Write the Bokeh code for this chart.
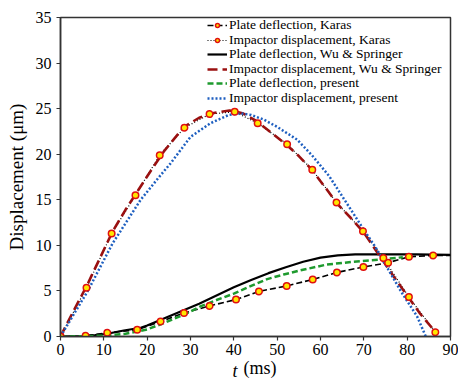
from bokeh.plotting import figure
from bokeh.models import Range1d, FixedTicker, Legend, LegendItem, Label
from bokeh.embed import file_html
from bokeh.resources import INLINE

# ---- data ----
karas_plate_t = [0, 5.8, 10.8, 17.7, 23.1, 28.5, 34.4, 40.5, 45.8, 52.2, 58.2, 63.8, 69.9, 75.6, 80.4, 86.0, 90]
karas_plate_y = [0, 0.08, 0.4, 0.74, 1.65, 2.57, 3.36, 4.05, 4.95, 5.54, 6.26, 7.03, 7.63, 8.1, 8.75, 8.9, 8.9]

karas_imp_t = [0, 6.0, 11.8, 17.3, 22.9, 28.6, 34.4, 40.2, 45.5, 52.3, 58.1, 63.7, 69.8, 74.5, 80.4, 86.5]
karas_imp_y = [0, 5.36, 11.3, 15.5, 19.9, 22.9, 24.4, 24.65, 23.4, 21.1, 18.3, 14.7, 11.56, 8.6, 4.33, 0.48]

wu_plate_t = [0, 5, 8, 10.8, 14.6, 18.5, 20, 24, 28, 32, 36, 40, 44, 48, 52, 56, 60, 64, 68, 75, 82, 90]
wu_plate_y = [0, 0.05, 0.15, 0.3, 0.66, 0.96, 1.2, 2.0, 2.8, 3.6, 4.5, 5.4, 6.2, 6.95, 7.6, 8.2, 8.65, 8.9, 9.0, 9.0, 9.0, 8.95]

wu_imp_t = [0, 3, 6, 9, 12, 15, 18, 21, 24, 28.5, 32, 35, 39, 42, 45, 48, 52, 55, 58, 61.5, 64, 67, 70, 74, 77, 80, 83, 86.5]
wu_imp_y = [0, 2.8, 5.5, 8.5, 11.5, 13.9, 16.1, 18.3, 20.4, 23.0, 24.0, 24.5, 24.8, 24.5, 23.7, 22.6, 21.1, 19.8, 18.3, 16.1, 14.5, 13.0, 11.4, 8.6, 6.5, 4.5, 2.5, 0.5]

present_plate_t = [0, 5, 10, 15, 18.5, 20, 24, 28.5, 32.3, 36, 40, 44, 47.7, 51.5, 55.4, 61.5, 67.7, 73.8, 79]
present_plate_y = [0, 0.02, 0.1, 0.3, 0.62, 0.78, 1.5, 2.4, 3.3, 4.0, 4.7, 5.55, 6.3, 6.8, 7.26, 7.9, 8.2, 8.45, 8.7]

present_imp_t = [0, 6.3, 12, 18.5, 23.1, 25.4, 30, 34.6, 38.8, 41.5, 44, 46.9, 50, 54.6, 58, 62, 66.9, 70, 72.7, 74.2, 78.5, 82.3, 84.3]
present_imp_y = [0, 5.0, 10.2, 15.0, 17.7, 19.0, 21.9, 23.4, 24.3, 24.5, 24.3, 23.8, 23.0, 21.6, 19.9, 17.6, 14.0, 11.7, 9.8, 8.55, 5.0, 2.2, 0.0]

x_ticks = [0, 10, 20, 30, 40, 50, 60, 70, 80, 90]
y_ticks = [0, 5, 10, 15, 20, 25, 30, 35]

labels = [
    "Plate deflection, Karas",
    "Impactor displacement, Karas",
    "Plate deflection, Wu & Springer",
    "Impactor displacement, Wu & Springer",
    "Plate deflection, present",
    "Impactor displacement, present",
]

SERIF = "Liberation Serif"
FRAME_H = 383 - 17 - 47

p = figure(width=458, height=383, output_backend="svg", toolbar_location=None,
           x_range=Range1d(0, 90), y_range=Range1d(0, 35),
           min_border_left=60, min_border_right=8, min_border_top=17, min_border_bottom=47)

p.background_fill_color = "white"
p.border_fill_color = "white"
p.xgrid.visible = False
p.ygrid.visible = False
p.outline_line_color = "#333333"
p.outline_line_width = 1.5

for ax in (p.xaxis[0], p.yaxis[0]):
    ax.axis_line_color = "#333333"
    ax.axis_line_width = 1.5
    ax.major_tick_line_color = "#333333"
    ax.major_tick_line_width = 1.2
    ax.major_tick_out = 4
    ax.major_tick_in = 0
    ax.minor_tick_line_color = None
    ax.major_label_text_font = SERIF
    ax.major_label_text_font_size = "16px"
    ax.major_label_text_color = "black"

p.yaxis[0].major_label_standoff = 5
p.xaxis[0].major_label_standoff = 3

p.xaxis[0].ticker = FixedTicker(ticks=x_ticks)
p.yaxis[0].ticker = FixedTicker(ticks=y_ticks)

p.yaxis[0].axis_label = "Displacement (\u03bcm)"
p.yaxis[0].axis_label_text_font = SERIF
p.yaxis[0].axis_label_text_font_style = "normal"
p.yaxis[0].axis_label_text_font_size = "19px"
p.yaxis[0].axis_label_text_color = "black"
p.yaxis[0].axis_label_standoff = 6

# x axis label: "(ms)" as the axis label, italic "t" as a label beside it
p.xaxis[0].axis_label = "\u2002(ms)"
p.xaxis[0].axis_label_text_font = SERIF
p.xaxis[0].axis_label_text_font_style = "normal"
p.xaxis[0].axis_label_text_font_size = "18px"
p.xaxis[0].axis_label_text_color = "black"
p.xaxis[0].axis_label_standoff = 0

p.add_layout(Label(x=39.7, y=-3.8, text="t", text_font=SERIF, text_font_style="italic",
                   text_font_size="18px", text_baseline="middle", text_align="left",
                   text_color="black"), "right")

MK_LINE = "#E01010"
MK_FILL = "#FFE600"

r1 = p.line(karas_plate_t, karas_plate_y, line_color="black", line_width=1.6, line_dash="6 3")
r2 = p.line(karas_imp_t, karas_imp_y, line_color="black", line_width=1.2, line_dash="1 2")
r3 = p.line(wu_plate_t, wu_plate_y, line_color="black", line_width=2.2)
r4 = p.line(wu_imp_t, wu_imp_y, line_color="#9A1010", line_width=2.6, line_dash="10 5")
r5 = p.line(present_plate_t, present_plate_y, line_color="#1E9A2E", line_width=2.5, line_dash="6 3")
r6 = p.line(present_imp_t, present_imp_y, line_color="#1E5FC0", line_width=2.5, line_dash="2 2")
m1 = p.scatter(karas_plate_t[:-1], karas_plate_y[:-1], size=6.5, marker="circle",
               line_color=MK_LINE, line_width=1.5, fill_color=MK_FILL)
m2 = p.scatter(karas_imp_t, karas_imp_y, size=6.5, marker="circle",
               line_color=MK_LINE, line_width=1.5, fill_color=MK_FILL)

legend_renderers = [[r1, m1], [r2, m2], [r3], [r4], [r5], [r6]]

# one single-row legend per entry so that the row pitch matches the reference
ROW_H = 20
for k, (lab, rends) in enumerate(zip(labels, legend_renderers)):
    cy = 8 + 14.5 * k                     # row centre, px below frame top
    lg = Legend(items=[LegendItem(label=lab, renderers=rends)],
                location=(147, FRAME_H - cy - ROW_H / 2))
    lg.label_text_font = SERIF
    lg.label_text_font_size = "13.5px"
    lg.label_text_color = "black"
    lg.label_height = ROW_H
    lg.glyph_height = 10
    lg.glyph_width = 20
    lg.label_standoff = 2
    lg.spacing = 0
    lg.padding = 0
    lg.margin = 0
    lg.border_line_color = None
    lg.background_fill_alpha = 0.0
    p.add_layout(lg)

open("out.html", "w").write(file_html(p, INLINE))
